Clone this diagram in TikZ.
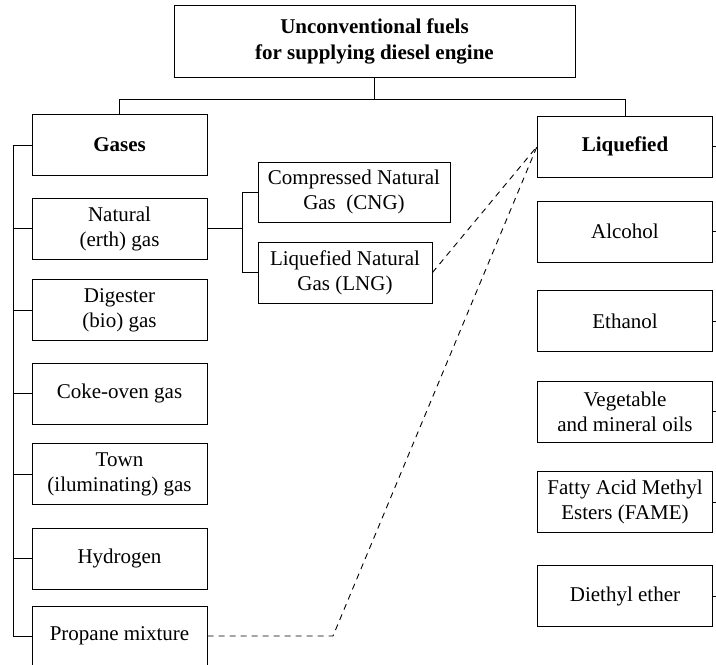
\documentclass[tikz,border=0pt]{standalone}
\usepackage{fontspec}
\setmainfont{Liberation Serif}
\usetikzlibrary{calc, positioning}

\begin{document}
\begin{tikzpicture}[x=1pt, y=-1pt, line width=1pt,
    fuel/.style={draw, align=center, inner sep=2pt, minimum width=175pt, minimum height=61pt, font=\fontsize{21}{25}\selectfont},
    head/.style={fuel, font=\fontsize{21}{25}\selectfont\bfseries},
    link/.style={dash pattern=on 6pt off 5pt, line width=0.9pt}]

    \useasboundingbox (0,0) rectangle (716,665);
    \clip (0,0) rectangle (716,665);

    \node[head, minimum width=401pt, minimum height=72pt, font=\fontsize{21}{26}\selectfont\bfseries] (top) at (374.5,41) {Unconventional fuels\\for supplying diesel engine};

    \node[head] (gases) at (119.5,145) {Gases};
    \node[fuel] (natural) at (119.5,228.5) {Natural\\(erth) gas};
    \node[fuel] (digester) at (119.5,310) {Digester\\(bio) gas};
    \node[fuel] (coke) at (119.5,393.5) {Coke-oven gas};
    \node[fuel] (town) at (119.5,474) {Town\\(iluminating) gas};
    \node[fuel] (hydrogen) at (119.5,558.5) {Hydrogen};
    \node[fuel, minimum height=60pt] (propane) at (119.5,636) {Propane mixture};

    \node[fuel, minimum width=192pt, minimum height=60pt] (cng) at (354,192) {Compressed Natural\\Gas~~(CNG)};
    \node[fuel, minimum width=174pt] (lng) at (345,272.5) {Liquefied Natural\\Gas (LNG)};

    \node[head] (liquefied) at (625,146.5) {Liquefied};
    \node[fuel] (alcohol) at (625,231.5) {Alcohol};
    \node[fuel] (ethanol) at (625,321) {Ethanol};
    \node[fuel] (oils) at (625,411.5) {Vegetable\\and mineral oils};
    \node[fuel] (fame) at (625,502) {Fatty Acid Methyl\\Esters (FAME)};
    \node[fuel] (ether) at (625,596) {Diethyl ether};

    \coordinate (split) at ($(top.south)+(0,22)$);
    \draw (top.south) -- (split);
    \draw (gases.north) |- (split) -| (liquefied.north);

    \coordinate (ltrunk) at (13,0);
    \draw (gases.west) -- (gases.west -| ltrunk) -- (propane.west -| ltrunk) -- (propane.west);
    \foreach \n in {natural, digester, coke, town, hydrogen}
      \draw (\n.west) -- (\n.west -| ltrunk);

    \coordinate (fork) at (242,0);
    \draw (natural.east) -- (natural.east -| fork);
    \draw (cng.west) -| (fork |- lng.west) -- (lng.west);

    \coordinate (rtrunk) at (722,0);
    \foreach \n in {liquefied, alcohol, ethanol, oils, fame, ether}
      \draw (\n.east) -- (\n.east -| rtrunk);

    \coordinate (bend) at (333,0);
    \draw[link] (lng.east) -- (liquefied.west);
    \draw[link] (propane.east) -- (propane.east -| bend) -- (liquefied.west);

\end{tikzpicture}
\end{document}
